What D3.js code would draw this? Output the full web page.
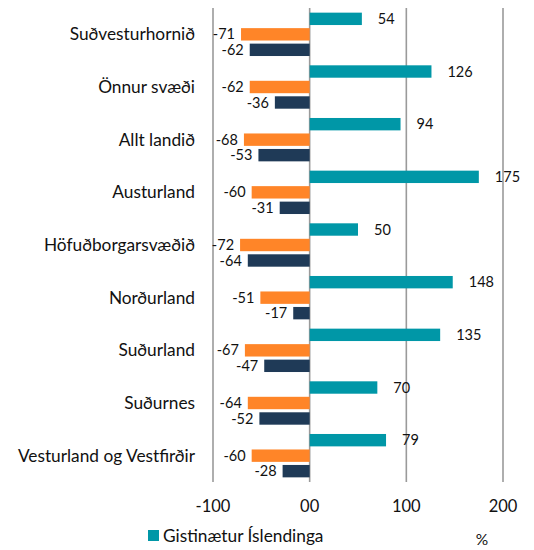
<!DOCTYPE html>
<html lang="is">
<head>
<meta charset="UTF-8">
<title>Gistinætur</title>
<script src="https://cdn.jsdelivr.net/npm/d3@7"></script>
<style>
  body { margin: 0; background: #fff; }
  text { font-family: Lato, "Open Sans", sans-serif; fill: #111; }
</style>
</head>
<body>
<div id="chart"></div>
<script>
var categories = ["Suðvesturhornið", "Önnur svæði", "Allt landið", "Austurland", "Höfuðborgarsvæðið",
                  "Norðurland", "Suðurland", "Suðurnes", "Vesturland og Vestfirðir"];
var islendingar = [54, 126, 94, 175, 50, 148, 135, 70, 79];
var seriesB = [-71, -62, -68, -60, -72, -51, -67, -64, -60];
var seriesC = [-62, -36, -53, -31, -64, -17, -47, -52, -28];
var tickValues = [-100, 0, 100, 200];
var tickLabels = ["-100", "00", "100", "200"];
var legendName = "Gistinætur Íslendinga";
var unit = "%";

var width = 534, height = 550;
var plot = {left: 213, right: 503, top: 8, bottom: 482};
var colors = ["#0097a7", "#ff8528", "#1f3a57"];
var series = [islendingar, seriesB, seriesC];

var svg = d3.select("#chart").append("svg")
    .attr("width", width).attr("height", height);

var x = d3.scaleLinear().domain([-100, 200]).range([plot.left, plot.right]);
var y = d3.scaleBand().domain(categories).range([plot.top, plot.bottom]).paddingInner(0).paddingOuter(0);
var inner = d3.scaleBand().domain([0, 1, 2]).range([0, y.bandwidth()]).paddingInner(0.2).paddingOuter(0.3);

// gridlines
svg.append("g").selectAll("line")
    .data(tickValues).enter().append("line")
    .attr("x1", function (d) { return x(d); })
    .attr("x2", function (d) { return x(d); })
    .attr("y1", plot.top).attr("y2", plot.bottom)
    .attr("stroke", "#9a9a9a").attr("stroke-width", 1.6);

// tick labels
svg.append("g").selectAll("text")
    .data(tickValues).enter().append("text")
    .attr("x", function (d) { return x(d); })
    .attr("y", 512)
    .attr("text-anchor", "middle")
    .attr("font-size", 16.5)
    .text(function (d, i) { return tickLabels[i]; });

// category labels
svg.append("g").selectAll("text")
    .data(categories).enter().append("text")
    .attr("x", 195)
    .attr("y", function (d) { return y(d) + y.bandwidth() / 2; })
    .attr("dy", "0.35em")
    .attr("text-anchor", "end")
    .attr("font-size", 17.3)
    .text(function (d) { return d; });

// bars + labels
series.forEach(function (vals, s) {
    var g = svg.append("g");
    g.selectAll("rect").data(vals).enter().append("rect")
        .attr("x", function (d) { return x(Math.min(0, d)); })
        .attr("width", function (d) { return Math.abs(x(d) - x(0)); })
        .attr("y", function (d, i) { return y(categories[i]) + inner(s); })
        .attr("height", inner.bandwidth())
        .attr("fill", colors[s]);
    g.selectAll("text").data(vals).enter().append("text")
        .attr("x", function (d) { return d >= 0 ? x(d) + 16 : x(d) - 6; })
        .attr("y", function (d, i) { return y(categories[i]) + inner(s) + inner.bandwidth() / 2; })
        .attr("dy", "0.35em")
        .attr("text-anchor", function (d) { return d >= 0 ? "start" : "end"; })
        .attr("font-size", 14.5)
        .text(function (d) { return d; });
});

// legend
svg.append("rect").attr("x", 148).attr("y", 530).attr("width", 11).attr("height", 11).attr("fill", colors[0]);
svg.append("text").attr("x", 163).attr("y", 536).attr("dy", "0.35em")
    .attr("font-size", 17.3).text(legendName);
svg.append("text").attr("x", 482).attr("y", 540).attr("dy", "0.35em")
    .attr("text-anchor", "middle").attr("font-size", 15.5).text(unit);
</script>
</body>
</html>
